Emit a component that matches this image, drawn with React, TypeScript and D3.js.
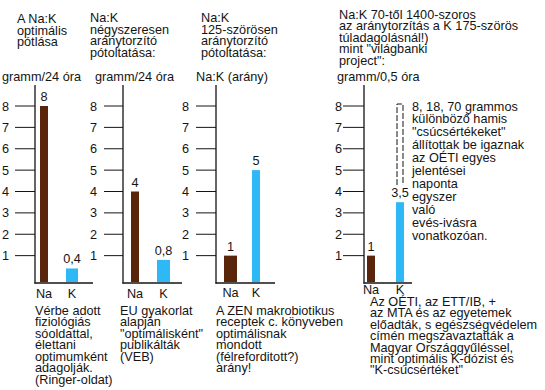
import React from "react";
import * as d3 from "d3";

const categories = ["Na", "K"];
const yTicks = [1, 2, 3, 4, 5, 6, 7, 8];

const panel1Values = [8, 0.4];
const panel1Labels = ["8", "0,4"];
const panel2Values = [4, 0.8];
const panel2Labels = ["4", "0,8"];
const panel3Values = [1, 5];
const panel3Labels = ["1", "5"];
const panel4Values = [1, 3.5];
const panel4Labels = ["1", "3,5"];
const panel4FalsePeak = 8;

const panel1Title = ["A Na:K", "optimális", "pótlása"];
const panel2Title = ["Na:K", "négyszeresen", "aránytorzító", "pótoltatása:"];
const panel3Title = ["Na:K", "125-szörösen", "aránytorzító", "pótoltatása:"];
const panel4Title = [
  "Na:K 70-től 1400-szoros",
  "az aránytorzítás a K 175-szörös",
  "túladagolásnál!)",
  'mint "világbanki',
  'project":',
];

const panel1Unit = "gramm/24 óra";
const panel2Unit = "gramm/24 óra";
const panel3Unit = "Na:K (arány)";
const panel4Unit = "gramm/0,5 óra";

const panel1Notes = [
  "Vérbe adott",
  "fiziológiás",
  "sóoldattal,",
  "élettani",
  "optimumként",
  "adagolják.",
  "(Ringer-oldat)",
];
const panel2Notes = ["EU gyakorlat", "alapján", '"optimálisként"', "publikálták", "(VEB)"];
const panel3Notes = [
  "A ZEN makrobiotikus",
  "receptek c. könyveben",
  "optimálisnak",
  "mondott",
  "(félreforditott?)",
  "arány!",
];
const panel4Notes = [
  "Az OÉTI, az ETT/IB, +",
  "az MTA és az egyetemek",
  "előadták, s egészségvédelem",
  "címén megszavaztatták a",
  "Magyar Országgyűléssel,",
  "mint optimális K-dózist és",
  '"K-csúcsértéket"',
];
const panel4Side = [
  "8, 18, 70 grammos",
  "különböző hamis",
  '"csúcsértékeket"',
  "állítottak be igaznak",
  "az OÉTI egyes",
  "jelentései",
  "naponta",
  "egyszer",
  "való",
  "evés-ivásra",
  "vonatkozóan.",
];

const NA_COLOR = "#5a260b";
const K_COLOR = "#2fb8f6";
const INK = "#141414";
const FONT = "'Liberation Sans', Arial, Helvetica, sans-serif";
const FS = 12.7;

const y = d3.scaleLinear().domain([0, 8]).range([277, 106]);
const BAR_BOTTOM = 282;
const AXIS_Y = 283;

type Panel = {
  values: number[];
  labels: string[];
  title: string[];
  titleX: number;
  titleY: number;
  titleStep: number;
  unit: string;
  unitX: number;
  notes: string[];
  notesX: number;
  notesY: number;
  notesStep: number;
  axisX: number;
  tickStart: number;
  tickLabelEnd: number;
  axisEnd: number;
  bars: { x: number; w: number }[];
  catY: number;
};

const panels: Panel[] = [
  {
    values: panel1Values, labels: panel1Labels, title: panel1Title, titleX: 17, titleY: 23, titleStep: 11.6,
    unit: panel1Unit, unitX: 2, notes: panel1Notes, notesX: 35, notesY: 315, notesStep: 11.45,
    axisX: 35, tickStart: 15, tickLabelEnd: 9, axisEnd: 93,
    bars: [{ x: 40, w: 8 }, { x: 66, w: 12 }], catY: 298,
  },
  {
    values: panel2Values, labels: panel2Labels, title: panel2Title, titleX: 90, titleY: 22, titleStep: 11.6,
    unit: panel2Unit, unitX: 95, notes: panel2Notes, notesX: 120, notesY: 315, notesStep: 11.45,
    axisX: 123, tickStart: 104, tickLabelEnd: 97, axisEnd: 182,
    bars: [{ x: 131, w: 8 }, { x: 157, w: 13 }], catY: 298,
  },
  {
    values: panel3Values, labels: panel3Labels, title: panel3Title, titleX: 201, titleY: 22, titleStep: 11.6,
    unit: panel3Unit, unitX: 196, notes: panel3Notes, notesX: 216, notesY: 315, notesStep: 11.45,
    axisX: 216, tickStart: 196, tickLabelEnd: 189, axisEnd: 275,
    bars: [{ x: 224, w: 13 }, { x: 252, w: 8 }], catY: 297,
  },
  {
    values: panel4Values, labels: panel4Labels, title: panel4Title, titleX: 339, titleY: 18.5, titleStep: 11.5,
    unit: panel4Unit, unitX: 337, notes: panel4Notes, notesX: 370, notesY: 306, notesStep: 11.4,
    axisX: 364, tickStart: 343, tickLabelEnd: 342, axisEnd: 412,
    bars: [{ x: 367, w: 8 }, { x: 396, w: 8 }], catY: 293.5,
  },
];

function Lines({ lines, x, y0, step }: { lines: string[]; x: number; y0: number; step: number }) {
  return (
    <g>
      {lines.map((t, i) => (
        <text key={i} x={x} y={y0 + i * step}>
          {t}
        </text>
      ))}
    </g>
  );
}

function PanelView({ p, idx }: { p: Panel; idx: number }) {
  const kb = p.bars[1];
  return (
    <g>
      <Lines lines={p.title} x={p.titleX} y0={p.titleY} step={p.titleStep} />
      <text x={p.unitX} y={81}>{p.unit}</text>
      <line x1={p.axisX} x2={p.axisX} y1={85} y2={AXIS_Y + 0.6} stroke={INK} strokeWidth={1.3} />
      <line x1={p.axisX - 0.6} x2={p.axisEnd} y1={AXIS_Y} y2={AXIS_Y} stroke={INK} strokeWidth={1.3} />
      {yTicks.map((t) => (
        <g key={t}>
          <line x1={p.tickStart} x2={p.axisX} y1={y(t)} y2={y(t)} stroke={INK} strokeWidth={1} />
          <text x={p.tickLabelEnd} y={y(t) + 4.5} textAnchor="end">{t}</text>
        </g>
      ))}
      {p.values.map((v, i) => {
        const b = p.bars[i];
        return (
          <g key={i}>
            <rect x={b.x} y={y(v)} width={b.w} height={BAR_BOTTOM - y(v)} fill={i === 0 ? NA_COLOR : K_COLOR} />
            <text x={b.x + b.w / 2} y={y(v) - 5} textAnchor="middle">{p.labels[i]}</text>
            <text x={b.x + b.w / 2} y={p.catY} textAnchor="middle">{categories[i]}</text>
          </g>
        );
      })}
      <Lines lines={p.notes} x={p.notesX} y0={p.notesY} step={p.notesStep} />
      {idx === 3 && (
        <g>
          <path
            d={`M${kb.x + 1},${y(4.3)} V${y(panel4FalsePeak) - 2} H${kb.x + kb.w - 1} V${y(4.3)}`}
            fill="none"
            stroke={INK}
            strokeWidth={1}
            strokeDasharray="6,2"
          />
          <Lines lines={panel4Side} x={412} y0={110.5} step={12.9} />
        </g>
      )}
    </g>
  );
}

export default function App() {
  return (
    <svg
      width={545}
      height={390}
      viewBox="0 0 545 390"
      style={{ position: "absolute", left: 0, top: 0, background: "#fff" }}
      fontFamily={FONT}
      fontSize={FS}
      fill={INK}
      stroke="none"
    >
      <rect width={545} height={390} fill="#fff" />
      <g style={{ paintOrder: "stroke" }}>
        {panels.map((p, i) => (
          <PanelView key={i} p={p} idx={i} />
        ))}
      </g>
    </svg>
  );
}
